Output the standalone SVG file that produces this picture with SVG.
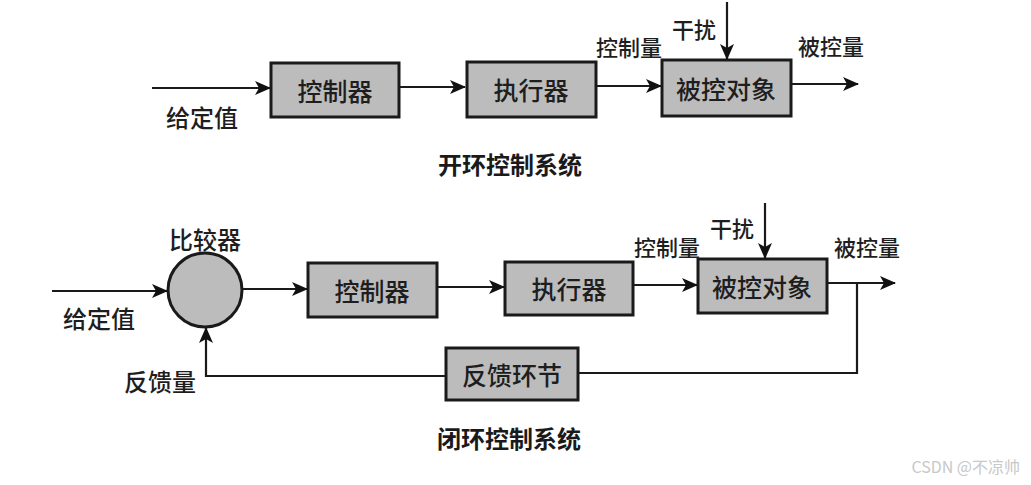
<svg xmlns="http://www.w3.org/2000/svg" width="1031" height="485" viewBox="0 0 1031 485">
<defs>
<marker id="ah" markerWidth="16" markerHeight="14" refX="15" refY="7" orient="auto" markerUnits="userSpaceOnUse">
<path d="M0,0 L16,7 L0,14 L4,7 Z" fill="#111"/>
</marker>
</defs>
<style>
.box{fill:#bcbcbc;stroke:#1a1a1a;stroke-width:3}
.bt{font-family:"Noto Sans CJK SC","Noto Sans",sans-serif;font-size:25px;font-weight:500;fill:#1e1e1e;text-anchor:middle;dominant-baseline:central}
.lb{font-family:"Noto Sans CJK SC","Noto Sans",sans-serif;font-size:24px;font-weight:500;fill:#1e1e1e;text-anchor:middle;dominant-baseline:central}
.sm{font-size:22px}
.ti{font-family:"Noto Sans CJK SC","Noto Sans",sans-serif;font-size:24px;font-weight:bold;fill:#1a1a1a;text-anchor:middle;dominant-baseline:central}
.ln{fill:none;stroke:#1a1a1a;stroke-width:2.2}
.wm{font-family:"Noto Sans CJK SC","Noto Sans",sans-serif;font-size:16px;fill:#c8c8c8;text-anchor:end;dominant-baseline:central}
</style>
<rect width="1031" height="485" fill="#ffffff"/>

<g id="connectors">
<line class="ln" x1="152" y1="88" x2="270" y2="88" marker-end="url(#ah)"/>
<line class="ln" x1="399" y1="87" x2="465" y2="87" marker-end="url(#ah)"/>
<line class="ln" x1="596" y1="86" x2="661" y2="86" marker-end="url(#ah)"/>
<line class="ln" x1="727" y1="2" x2="727" y2="59" marker-end="url(#ah)"/>
<line class="ln" x1="791" y1="84" x2="858" y2="84" marker-end="url(#ah)"/>
<line class="ln" x1="52" y1="291" x2="167" y2="291" marker-end="url(#ah)"/>
<line class="ln" x1="242" y1="289" x2="307" y2="289" marker-end="url(#ah)"/>
<line class="ln" x1="437" y1="287" x2="504" y2="287" marker-end="url(#ah)"/>
<line class="ln" x1="633" y1="285" x2="697" y2="285" marker-end="url(#ah)"/>
<line class="ln" x1="765" y1="203" x2="765" y2="258" marker-end="url(#ah)"/>
<line class="ln" x1="827" y1="283" x2="895" y2="283" marker-end="url(#ah)"/>
<polyline class="ln" points="857,283 857,373 578,373"/>
<polyline class="ln" points="446,376 206,376 206,328" marker-end="url(#ah)"/>
</g>

<g id="ol-controller"><rect class="box" x="271" y="63" width="128" height="54"/><text class="bt" x="335" y="90">控制器</text></g>
<g id="ol-actuator"><rect class="box" x="467" y="62" width="129" height="55"/><text class="bt" x="531" y="89">执行器</text></g>
<g id="ol-plant"><rect class="box" x="662" y="60" width="129" height="56"/><text class="bt" x="726" y="88">被控对象</text></g>

<g id="cl-comparator"><circle cx="205" cy="290" r="37" fill="#bcbcbc" stroke="#1a1a1a" stroke-width="3"/></g>
<g id="cl-controller"><rect class="box" x="308" y="263" width="129" height="54"/><text class="bt" x="372" y="290">控制器</text></g>
<g id="cl-actuator"><rect class="box" x="505" y="262" width="128" height="53"/><text class="bt" x="569" y="288">执行器</text></g>
<g id="cl-plant"><rect class="box" x="698" y="259" width="129" height="54"/><text class="bt" x="762" y="286">被控对象</text></g>
<g id="cl-feedback"><rect class="box" x="446" y="348" width="132" height="52"/><text class="bt" x="512" y="374">反馈环节</text></g>

<g id="labels">
<text class="lb" x="202" y="116">给定值</text>
<text class="lb sm" x="629" y="46">控制量</text>
<text class="lb sm" x="694" y="28">干扰</text>
<text class="lb sm" x="831" y="45">被控量</text>
<text class="ti" x="510" y="163">开环控制系统</text>
<text class="lb" x="205" y="238">比较器</text>
<text class="lb" x="99" y="317">给定值</text>
<text class="lb" x="160" y="380">反馈量</text>
<text class="lb sm" x="667" y="246">控制量</text>
<text class="lb sm" x="732" y="227">干扰</text>
<text class="lb sm" x="867" y="246">被控量</text>
<text class="ti" x="509" y="437">闭环控制系统</text>
</g>

<text class="wm" x="1020" y="466">CSDN @不凉帅</text>
</svg>
